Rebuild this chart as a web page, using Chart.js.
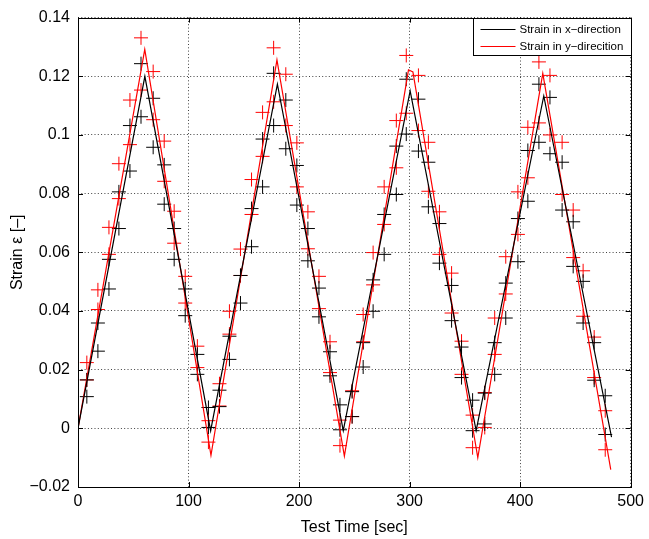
<!DOCTYPE html>
<html>
<head>
<meta charset="utf-8">
<title>Strain vs test time</title>
<script src="https://cdn.jsdelivr.net/npm/chart.js@4.4.1/dist/chart.umd.min.js"></script>
<style>
  html, body { margin: 0; padding: 0; background: #fff; }
  canvas { display: block; }
</style>
</head>
<body>
<canvas id="strainChart" width="649" height="539"></canvas>
<script>
// measured strain traces (continuous recording)
const xLineTime = [0, 60.5, 120, 180.4, 240, 300.5, 360.2, 421.4, 482.7];
const xLineStrain = [0, 0.1200, -0.0008, 0.1173, -0.0008, 0.1150, -0.0008, 0.1133, -0.0030];
const yLineTime = [0, 60.4, 120.3, 180, 241, 299, 303, 361.7, 420.5, 482];
const yLineStrain = [0, 0.1292, -0.0092, 0.1256, -0.0095, 0.1222, 0.1215, -0.0100, 0.1210, -0.0141];

// sampled readings, two per sample time for each direction
const sampleTime = [8, 18, 28, 37, 47, 57, 68, 78, 87, 97, 108, 118, 128, 137, 147, 157, 167, 177, 188, 198,
  208, 218, 228, 237, 248, 258, 267, 277, 288, 297, 308, 317, 327, 338, 347, 357, 368, 377, 387, 398,
  407, 417, 427, 438, 448, 457, 467, 477];
const xUpper = [0.0165, 0.0359, 0.0576, 0.0806, 0.1032, 0.1243, 0.1125, 0.0898, 0.0681, 0.0475, 0.0252, 0.0071,
  0.0130, 0.0314, 0.0521, 0.0749, 0.0986, 0.1210, 0.1119, 0.0896, 0.0681, 0.0478, 0.0261, 0.0080,
  0.0125, 0.0292, 0.0506, 0.0729, 0.0962, 0.1190, 0.1122, 0.0907, 0.0698, 0.0487, 0.0277, 0.0096,
  0.0120, 0.0292, 0.0495, 0.0715, 0.0947, 0.1173, 0.1128, 0.0907, 0.0704, 0.0501, 0.0292, 0.0111];
const xLower = [0.0108, 0.0263, 0.0475, 0.0681, 0.0877, 0.1062, 0.0958, 0.0764, 0.0576, 0.0384, 0.0184, 0.0003,
  0.0074, 0.0235, 0.0427, 0.0619, 0.0823, 0.1032, 0.0953, 0.0761, 0.0571, 0.0380, 0.0179, -0.0005,
  0.0040, 0.0209, 0.0399, 0.0593, 0.0797, 0.1003, 0.0945, 0.0755, 0.0563, 0.0367, 0.0173, -0.0008,
  0.0015, 0.0184, 0.0376, 0.0568, 0.0774, 0.0975, 0.0936, 0.0744, 0.0552, 0.0359, 0.0164, -0.0021];
const yUpper = [0.0224, 0.0472, 0.0685, 0.0902, 0.1119, 0.1331, 0.1216, 0.0979, 0.0740, 0.0518, 0.0280, 0.0026,
  0.0152, 0.0399, 0.0611, 0.0848, 0.1077, 0.1297, 0.1207, 0.0973, 0.0738, 0.0518, 0.0295, 0.0028,
  0.0128, 0.0388, 0.0599, 0.0823, 0.1049, 0.1271, 0.1203, 0.0975, 0.0738, 0.0529, 0.0297, 0.0045,
  0.0122, 0.0376, 0.0585, 0.0806, 0.1026, 0.1249, 0.1203, 0.0975, 0.0744, 0.0537, 0.0311, 0.0060];
const yLower = [0.0165, 0.0405, 0.0593, 0.0783, 0.0967, 0.1153, 0.1052, 0.0842, 0.0631, 0.0427, 0.0207, -0.0047,
  0.0076, 0.0321, 0.0521, 0.0729, 0.0927, 0.1113, 0.1032, 0.0823, 0.0612, 0.0408, 0.0190, -0.0059,
  0.0040, 0.0295, 0.0489, 0.0695, 0.0888, 0.1074, 0.1015, 0.0808, 0.0593, 0.0393, 0.0184, -0.0066,
  0.0003, 0.0252, 0.0458, 0.0661, 0.0854, 0.1041, 0.1000, 0.0797, 0.0582, 0.0382, 0.0173, -0.0073];

const xTicks = [0, 100, 200, 300, 400, 500];
const yTicks = [-0.02, 0, 0.02, 0.04, 0.06, 0.08, 0.1, 0.12, 0.14];

const FONT = '"Liberation Sans", Arial, Helvetica, sans-serif';

function pairs(t, v) {
  return t.map((x, i) => ({ x: x, y: v[i] }));
}

function samples(upper, lower) {
  return pairs(sampleTime, upper).concat(pairs(sampleTime, lower));
}

// box around the axes, inward tick marks and the legend in the upper right corner
const axesFrame = {
  id: 'axesFrame',
  afterDraw(chart) {
    const { ctx, chartArea: a, scales } = chart;
    const tick = 5;
    ctx.save();
    ctx.strokeStyle = '#000';
    ctx.lineWidth = 1;
    ctx.setLineDash([]);
    ctx.beginPath();
    scales.x.ticks.forEach(t => {
      const px = Math.round(scales.x.getPixelForValue(t.value)) + 0.5;
      ctx.moveTo(px, a.bottom); ctx.lineTo(px, a.bottom - tick);
      ctx.moveTo(px, a.top); ctx.lineTo(px, a.top + tick);
    });
    scales.y.ticks.forEach(t => {
      const py = Math.round(scales.y.getPixelForValue(t.value)) + 0.5;
      ctx.moveTo(a.left, py); ctx.lineTo(a.left + tick, py);
      ctx.moveTo(a.right, py); ctx.lineTo(a.right - tick, py);
    });
    ctx.stroke();
    ctx.strokeRect(Math.round(a.left) + 0.5, Math.round(a.top) + 0.5,
      Math.round(a.right - a.left), Math.round(a.bottom - a.top));

    // legend
    const items = chart.data.datasets.filter(d => d.inLegend);
    ctx.font = '11.5px ' + FONT;
    const textW = Math.max(...items.map(d => ctx.measureText(d.label).width));
    const lineLen = 35, padL = 7, gap = 4, padR = 8, rowH = 17;
    const w = Math.round(padL + lineLen + gap + textW + padR);
    const h = 37;
    const left = Math.round(a.right - w) + 0.5;
    const top = Math.round(a.top) + 0.5;
    ctx.fillStyle = '#fff';
    ctx.fillRect(left, top, w, h);
    ctx.strokeStyle = '#000';
    ctx.strokeRect(left, top, w, h);
    ctx.textBaseline = 'middle';
    ctx.textAlign = 'left';
    items.forEach((d, i) => {
      const cy = Math.round(top + 10 + i * rowH) + 0.5;
      ctx.strokeStyle = d.borderColor;
      ctx.lineWidth = 1.2;
      ctx.beginPath();
      ctx.moveTo(left + padL, cy);
      ctx.lineTo(left + padL + lineLen, cy);
      ctx.stroke();
      ctx.fillStyle = '#000';
      ctx.fillText(d.label, left + padL + lineLen + gap, cy);
    });
    ctx.restore();
  }
};

new Chart(document.getElementById('strainChart'), {
  type: 'scatter',
  data: {
    datasets: [
      {
        label: 'Strain in x\u2212direction',
        inLegend: true,
        data: pairs(xLineTime, xLineStrain),
        showLine: true,
        borderColor: '#000000',
        borderWidth: 1.2,
        pointRadius: 0,
        tension: 0
      },
      {
        label: 'Strain in y\u2212direcition',
        inLegend: true,
        data: pairs(yLineTime, yLineStrain),
        showLine: true,
        borderColor: '#ff0000',
        borderWidth: 1.2,
        pointRadius: 0,
        tension: 0
      },
      {
        label: 'x samples',
        data: samples(xUpper, xLower),
        showLine: false,
        pointStyle: 'cross',
        pointRadius: 7,
        borderWidth: 1,
        borderColor: '#000000'
      },
      {
        label: 'y samples',
        data: samples(yUpper, yLower),
        showLine: false,
        pointStyle: 'cross',
        pointRadius: 7,
        borderWidth: 1,
        borderColor: '#ff0000'
      }
    ]
  },
  options: {
    responsive: false,
    animation: false,
    devicePixelRatio: 1,
    layout: { padding: { top: 15, right: 13, left: 0, bottom: 0 } },
    plugins: {
      legend: { display: false },
      tooltip: { enabled: false }
    },
    scales: {
      x: {
        type: 'linear',
        min: 0,
        max: 500,
        afterBuildTicks: s => { s.ticks = xTicks.map(v => ({ value: v })); },
        afterFit: s => { s.height = 52; },
        grid: { color: 'rgba(0,0,0,0.75)', drawTicks: false, lineWidth: 1 },
        border: { display: false, dash: [1, 2.3] },
        ticks: {
          color: '#000',
          padding: 5,
          maxRotation: 0,
          font: { family: FONT, size: 16 }
        },
        title: {
          display: true,
          text: 'Test Time [sec]',
          color: '#000',
          padding: { top: 0, bottom: 2 },
          font: { family: FONT, size: 16 }
        }
      },
      y: {
        type: 'linear',
        min: -0.02,
        max: 0.14,
        afterBuildTicks: s => { s.ticks = yTicks.map(v => ({ value: v })); },
        afterFit: s => { s.width = 78; },
        grid: { color: 'rgba(0,0,0,0.75)', drawTicks: false, lineWidth: 1 },
        border: { display: false, dash: [1, 2.3] },
        ticks: {
          color: '#000',
          padding: 8,
          font: { family: FONT, size: 16 },
          callback: v => String(+v.toFixed(2)).replace('-', '\u2212')
        },
        title: {
          display: true,
          text: 'Strain \u03b5 [\u2013]',
          color: '#000',
          padding: { top: 8, bottom: 0 },
          font: { family: FONT, size: 16 }
        }
      }
    }
  },
  plugins: [axesFrame]
});
</script>
</body>
</html>
